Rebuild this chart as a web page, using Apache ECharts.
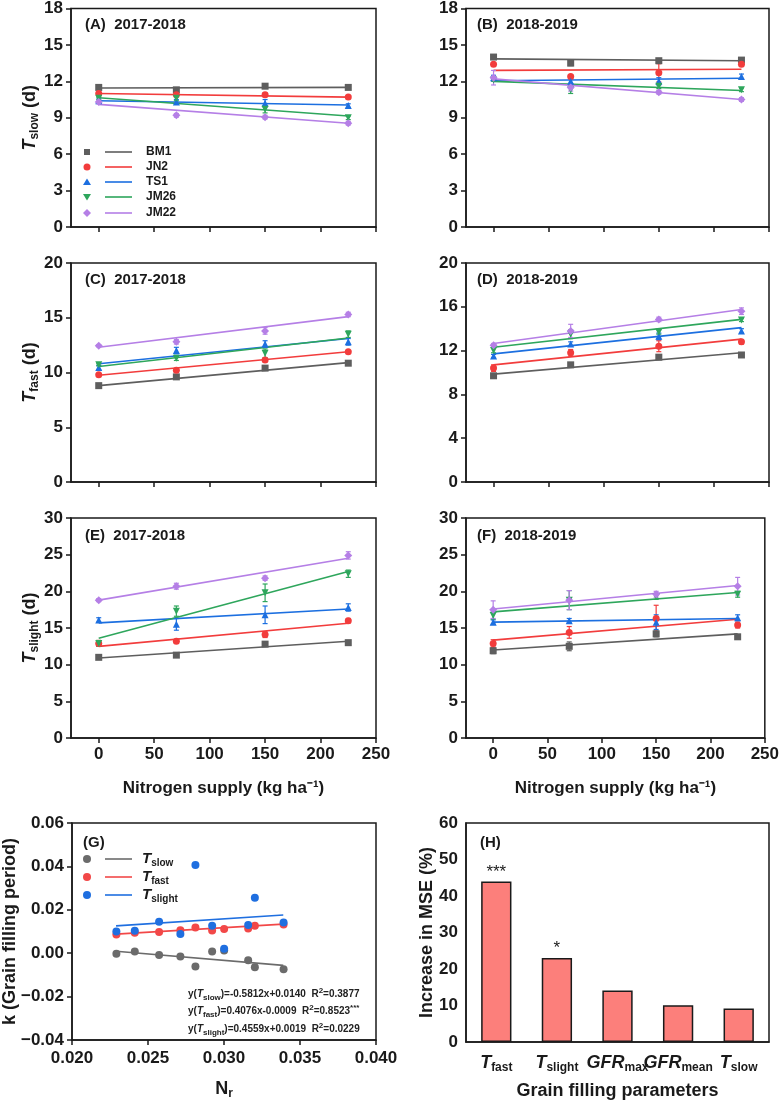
<!DOCTYPE html>
<html>
<head>
<meta charset="utf-8">
<script src="https://cdn.jsdelivr.net/npm/echarts@6/dist/echarts.min.js"></script>
<style>html,body{margin:0;background:#fff}#main{width:782px;height:1101px}</style>
</head>
<body>
<div id="main"></div>
<script>
var FONT = 'Liberation Sans, Arial, sans-serif';
var chart = echarts.init(document.getElementById('main'));

var nitrogen = [0, 70, 150, 225];
var fitX = [0, 225];
var cultivars = ['BM1', 'JN2', 'TS1', 'JM26', 'JM22'];
var colors = ['#5e5e5e', '#f23c3c', '#1c6fe0', '#2ea65c', '#b57fe6'];
var symbols = ['rect', 'circle', 'triangle', 'path://M0,0L10,0L5,9Z', 'diamond'];

// (A) Tslow 2017-2018, one row per cultivar
var slowA = [[11.5, 11.3, 11.6, 11.5], [11.0, 10.9, 10.9, 10.7], [10.4, 10.3, 10.2, 10.0], [10.6, 10.6, 9.7, 9.0], [10.3, 9.2, 9.05, 8.55]];
var slowAErr = [[0.1, 0.15, 0.1, 0.1], [0.1, 0.15, 0.15, 0.1], [0.15, 0.2, 0.3, 0.15], [0.1, 0.2, 0.3, 0.15], [0.15, 0.15, 0.15, 0.15]];
var slowAFit = [[11.45, 11.5], [11.0, 10.7], [10.4, 10.05], [10.65, 9.15], [10.1, 8.55]];
// (B) Tslow 2018-2019
var slowB = [[14.0, 13.5, 13.7, 13.75], [13.4, 12.4, 12.7, 13.4], [12.3, 12.0, 12.0, 12.4], [12.1, 11.3, 11.6, 11.3], [12.3, 11.5, 11.1, 10.5]];
var slowBErr = [[0.1, 0.2, 0.1, 0.15], [0.1, 0.15, 0.75, 0.1], [0.2, 0.2, 0.3, 0.2], [0.1, 0.3, 0.2, 0.15], [0.6, 0.3, 0.15, 0.15]];
var slowBFit = [[13.85, 13.7], [12.9, 13.0], [12.05, 12.25], [12.0, 11.25], [12.2, 10.5]];
// (C) Tfast 2017-2018
var fastC = [[8.8, 9.6, 10.4, 10.85], [9.8, 10.2, 11.15, 11.9], [10.45, 12.0, 12.6, 12.8], [10.7, 11.3, 11.75, 13.5], [12.45, 12.8, 13.8, 15.3]];
var fastCErr = [[0.1, 0.1, 0.1, 0.15], [0.1, 0.15, 0.15, 0.1], [0.2, 0.3, 0.3, 0.3], [0.1, 0.2, 0.4, 0.3], [0.1, 0.2, 0.3, 0.2]];
var fastCFit = [[8.8, 10.9], [9.75, 11.9], [10.8, 13.1], [10.55, 13.15], [12.3, 15.1]];
// (D) Tfast 2018-2019
var fastD = [[9.7, 10.7, 11.4, 11.6], [10.4, 11.8, 12.4, 12.8], [11.5, 12.6, 13.3, 13.8], [12.0, 13.5, 13.7, 14.8], [12.5, 13.8, 14.85, 15.6]];
var fastDErr = [[0.15, 0.15, 0.2, 0.15], [0.3, 0.3, 0.5, 0.2], [0.15, 0.2, 0.3, 0.2], [0.2, 0.4, 0.2, 0.15], [0.15, 0.6, 0.2, 0.3]];
var fastDFit = [[9.85, 11.8], [10.7, 13.05], [11.7, 14.1], [12.3, 14.85], [12.65, 15.75]];
// (E) Tslight 2017-2018
var slightE = [[11.0, 11.3, 12.8, 13.0], [12.9, 13.2, 14.1, 16.0], [16.1, 15.5, 16.8, 17.8], [12.9, 17.3, 19.8, 22.4], [18.8, 20.7, 21.8, 24.9]];
var slightEErr = [[0.2, 0.3, 0.3, 0.3], [0.4, 0.2, 0.4, 0.3], [0.3, 0.8, 1.2, 0.5], [0.4, 0.7, 1.2, 0.5], [0.2, 0.4, 0.3, 0.5]];
var slightEFit = [[10.9, 13.2], [12.5, 15.65], [15.7, 17.6], [13.6, 22.7], [18.8, 24.5]];
// (F) Tslight 2018-2019
var slightF = [[11.9, 12.5, 14.2, 13.8], [12.9, 14.4, 16.3, 15.4], [15.8, 16.0, 15.8, 16.4], [16.7, 18.8, 19.3, 19.6], [17.5, 18.8, 19.6, 20.7]];
var slightFErr = [[0.4, 0.6, 0.4, 0.3], [0.5, 0.8, 1.8, 0.4], [0.3, 0.3, 1.0, 0.4], [0.5, 1.3, 0.4, 0.4], [1.2, 1.3, 0.4, 1.2]];
var slightFFit = [[12.0, 14.2], [13.35, 16.2], [15.8, 16.3], [17.2, 19.85], [17.6, 20.8]];

// (G) k vs Nr
var nrSlow = [0.02292, 0.02413, 0.02573, 0.02713, 0.02812, 0.02922, 0.03001, 0.03159, 0.03203, 0.03392];
var kSlow = [-0.0002, 0.0008, -0.0008, -0.0015, -0.0061, 0.0008, 0.0012, -0.0032, -0.0065, -0.0074];
var nrFast = [0.02292, 0.02413, 0.02573, 0.02713, 0.02812, 0.02922, 0.03001, 0.03159, 0.03203, 0.03392];
var kFast = [0.0086, 0.0094, 0.0098, 0.0106, 0.0118, 0.0105, 0.0111, 0.0114, 0.0127, 0.0132];
var nrSlight = [0.02292, 0.02413, 0.02573, 0.02713, 0.02812, 0.02922, 0.03001, 0.03159, 0.03203, 0.03392];
var kSlight = [0.0100, 0.0103, 0.0145, 0.0089, 0.0406, 0.0127, 0.0020, 0.0130, 0.0256, 0.0141];
var fitNr = [0.0229, 0.0339];
var fitSlowG = [0.0009, -0.0056];
var fitFastG = [0.0088, 0.0134];
var fitSlightG = [0.0126, 0.0176];
var gNames = ['slow', 'fast', 'slight'];
var gColors = ['#6b6b6b', '#f24848', '#1f6fe0'];

// (H) importance
var params = ['T_fast', 'T_slight', 'GFR_max', 'GFR_mean', 'T_slow'];
var mseIncrease = [44.0, 23.0, 14.1, 10.1, 9.2];
var stars = ['***', '*', '', '', ''];

var panels = [
  {vals: slowA, err: slowAErr, fit: slowAFit, max: 18, step: 3, sub: 'slow', title: '(A)  2017-2018'},
  {vals: slowB, err: slowBErr, fit: slowBFit, max: 18, step: 3, sub: null, title: '(B)  2018-2019'},
  {vals: fastC, err: fastCErr, fit: fastCFit, max: 20, step: 5, sub: 'fast', title: '(C)  2017-2018'},
  {vals: fastD, err: fastDErr, fit: fastDFit, max: 20, step: 4, sub: null, title: '(D)  2018-2019'},
  {vals: slightE, err: slightEErr, fit: slightEFit, max: 30, step: 5, sub: 'slight', title: '(E)  2017-2018'},
  {vals: slightF, err: slightFErr, fit: slightFFit, max: 30, step: 5, sub: null, title: '(F)  2018-2019'}
];

var gridPos = [
  [71, 7, 305, 220], [466, 7, 303, 220],
  [71, 263, 305, 219], [466, 263, 303, 219],
  [71, 518, 305, 220], [466, 518, 303, 220],
  [72, 823, 304, 220], [466, 823, 303, 220]
];
var titlePos = [[85, 17], [477, 17], [85, 272], [477, 272], [85, 528], [477, 528], [83, 835], [480, 835]];

var BLACK = '#1a1a1a';
var nameRich = {
  i: {fontFamily: FONT, fontSize: 18, fontWeight: 'bold', fontStyle: 'italic', color: BLACK, lineHeight: 22, verticalAlign: 'middle'},
  s: {fontFamily: FONT, fontSize: 12, fontWeight: 'bold', color: BLACK, lineHeight: 22, verticalAlign: 'bottom'},
  n: {fontFamily: FONT, fontSize: 18, fontWeight: 'bold', color: BLACK, lineHeight: 22, verticalAlign: 'middle'}
};
var nTicks = [0, 50, 100, 150, 200, 250];
var axisLineStyle = {show: true, onZero: false, lineStyle: {color: BLACK, width: 1.5}};

var grids = gridPos.map(function (g) {
  return {left: g[0], top: g[1], width: g[2], height: g[3], show: true, borderColor: BLACK, borderWidth: 1.5, containLabel: false};
});
var titles = titlePos.map(function (t, i) {
  return {text: i < 6 ? panels[i].title : (i === 6 ? '(G)' : '(H)'), left: t[0], top: t[1], padding: 0,
    textStyle: {fontFamily: FONT, fontSize: 15, fontWeight: 'bold', color: BLACK}};
});

var xAxes = [], yAxes = [], series = [];

function errorBar(params, api) {
  var x = api.value(0), y = api.value(1), e = api.value(2);
  var hi = api.coord([x, y + e]), lo = api.coord([x, y - e]);
  var st = {stroke: api.visual('color'), lineWidth: 1.2};
  return {type: 'group', children: [
    {type: 'line', shape: {x1: hi[0], y1: hi[1], x2: lo[0], y2: lo[1]}, style: st},
    {type: 'line', shape: {x1: hi[0] - 2.5, y1: hi[1], x2: hi[0] + 2.5, y2: hi[1]}, style: st},
    {type: 'line', shape: {x1: lo[0] - 2.5, y1: lo[1], x2: lo[0] + 2.5, y2: lo[1]}, style: st}
  ]};
}

panels.forEach(function (p, gi) {
  var bottomRow = gi >= 4;
  xAxes.push({
    type: 'value', gridIndex: gi, min: -25, max: 250,
    name: bottomRow ? 'Nitrogen supply (kg ha\u207B\u00B9)' : '', nameLocation: 'middle', nameGap: 42, nameMoveOverlap: false,
    nameTextStyle: {fontFamily: FONT, fontSize: 17, fontWeight: 'bold', color: BLACK},
    axisLine: axisLineStyle,
    axisTick: {show: true, length: 5, customValues: nTicks, lineStyle: {color: BLACK, width: 1.5}},
    axisLabel: {show: bottomRow, customValues: nTicks, margin: 8, fontFamily: FONT, fontSize: 17, fontWeight: 'bold', color: BLACK},
    splitLine: {show: false}
  });
  yAxes.push({
    type: 'value', gridIndex: gi, min: 0, max: p.max, interval: p.step,
    name: p.sub ? '{i|T}{s|' + p.sub + '}{n| (d)}' : '', nameLocation: 'middle', nameRotate: 90, nameGap: 30, nameMoveOverlap: false,
    nameTextStyle: {rich: nameRich},
    axisLine: axisLineStyle,
    axisTick: {show: true, length: 5, lineStyle: {color: BLACK, width: 1.5}},
    axisLabel: {margin: 8, fontFamily: FONT, fontSize: 17, fontWeight: 'bold', color: BLACK},
    splitLine: {show: false}
  });
  cultivars.forEach(function (c, ci) {
    series.push({
      type: 'line', name: c + ' fit', xAxisIndex: gi, yAxisIndex: gi, showSymbol: false, silent: true,
      data: fitX.map(function (x, k) { return [x, p.fit[ci][k]]; }),
      lineStyle: {color: colors[ci], width: 1.6}, z: 2
    });
    series.push({
      type: 'custom', name: c + ' err', xAxisIndex: gi, yAxisIndex: gi, renderItem: errorBar,
      itemStyle: {color: colors[ci]},
      data: nitrogen.map(function (x, k) { return [x, p.vals[ci][k], p.err[ci][k]]; }), z: 3
    });
    series.push({
      type: 'scatter', name: c, xAxisIndex: gi, yAxisIndex: gi, symbol: symbols[ci], symbolSize: ci === 4 ? 8 : 7,
      itemStyle: {color: colors[ci], opacity: 1},
      data: nitrogen.map(function (x, k) { return [x, p.vals[ci][k]]; }), z: 4
    });
  });
});

// G axes
xAxes.push({
  type: 'value', gridIndex: 6, min: 0.02, max: 0.04, interval: 0.005,
  name: '{n|N}{s|r}', nameLocation: 'middle', nameGap: 38, nameMoveOverlap: false, nameTextStyle: {rich: nameRich},
  axisLine: axisLineStyle,
  axisTick: {length: 5, lineStyle: {color: BLACK, width: 1.5}},
  axisLabel: {margin: 10, fontFamily: FONT, fontSize: 17, fontWeight: 'bold', color: BLACK, formatter: function (v) { return v.toFixed(3); }},
  splitLine: {show: false}
});
yAxes.push({
  type: 'value', gridIndex: 6, min: -0.04, max: 0.06, interval: 0.02,
  name: 'k (Grain filling period)', nameLocation: 'middle', nameRotate: 90, nameGap: 53, nameMoveOverlap: false,
  nameTextStyle: {fontFamily: FONT, fontSize: 18, fontWeight: 'bold', color: BLACK},
  axisLine: axisLineStyle,
  axisTick: {length: 5, lineStyle: {color: BLACK, width: 1.5}},
  axisLabel: {margin: 8, fontFamily: FONT, fontSize: 17, fontWeight: 'bold', color: BLACK,
    formatter: function (v) { return v < 0 ? '\u2212' + Math.abs(v).toFixed(2) : v.toFixed(2); }},
  splitLine: {show: false}
});
var gX = [nrSlow, nrFast, nrSlight], gY = [kSlow, kFast, kSlight], gFit = [fitSlowG, fitFastG, fitSlightG];
gNames.forEach(function (n, i) {
  series.push({
    type: 'line', name: 'k ' + n + ' fit', xAxisIndex: 6, yAxisIndex: 6, showSymbol: false, silent: true,
    data: fitNr.map(function (x, k) { return [x, gFit[i][k]]; }),
    lineStyle: {color: gColors[i], width: 1.6}, z: 2 + i
  });
  series.push({
    type: 'scatter', name: 'k ' + n, xAxisIndex: 6, yAxisIndex: 6, symbol: 'circle', symbolSize: 8,
    itemStyle: {color: gColors[i], opacity: 1},
    data: gX[i].map(function (x, k) { return [x, gY[i][k]]; }), z: 3 + i
  });
});

// H axes
xAxes.push({
  type: 'category', gridIndex: 7, data: params,
  name: 'Grain filling parameters', nameLocation: 'middle', nameGap: 40, nameMoveOverlap: false,
  nameTextStyle: {fontFamily: FONT, fontSize: 18, fontWeight: 'bold', color: BLACK},
  axisLine: axisLineStyle,
  axisTick: {alignWithLabel: true, length: 5, lineStyle: {color: BLACK, width: 1.5}},
  axisLabel: {interval: 0, margin: 10, formatter: function (v) { var s = v.split('_'); return '{i|' + s[0] + '}{s|' + s[1] + '}'; },
    rich: nameRich}
});
yAxes.push({
  type: 'value', gridIndex: 7, min: 0, max: 60, interval: 10,
  name: 'Increase in MSE (%)', nameLocation: 'middle', nameRotate: 90, nameGap: 30, nameMoveOverlap: false,
  nameTextStyle: {fontFamily: FONT, fontSize: 18, fontWeight: 'bold', color: BLACK},
  axisLine: axisLineStyle,
  axisTick: {length: 5, lineStyle: {color: BLACK, width: 1.5}},
  axisLabel: {margin: 8, fontFamily: FONT, fontSize: 17, fontWeight: 'bold', color: BLACK},
  splitLine: {show: false}
});
series.push({
  type: 'bar', name: 'MSE', xAxisIndex: 7, yAxisIndex: 7, data: mseIncrease, barWidth: '50%',
  itemStyle: {color: '#fc7f7b', borderColor: BLACK, borderWidth: 1.5},
  label: {show: true, position: 'top', distance: 1, fontFamily: FONT, fontSize: 17, color: BLACK,
    formatter: function (p) { return stars[p.dataIndex]; }}
});

// legends drawn as graphics
var graphics = [];
var legendRows = [152, 167, 182, 197, 213];
cultivars.forEach(function (c, ci) {
  var y = legendRows[ci], col = colors[ci], shape;
  if (ci === 0) shape = {type: 'rect', shape: {x: 84, y: y - 3, width: 6, height: 6}, style: {fill: col}};
  else if (ci === 1) shape = {type: 'circle', shape: {cx: 87, cy: y, r: 3.5}, style: {fill: col}};
  else if (ci === 2) shape = {type: 'polygon', shape: {points: [[87, y - 3.5], [91, y + 3], [83, y + 3]]}, style: {fill: col}};
  else if (ci === 3) shape = {type: 'polygon', shape: {points: [[83, y - 3], [91, y - 3], [87, y + 3.5]]}, style: {fill: col}};
  else shape = {type: 'polygon', shape: {points: [[87, y - 4], [91, y], [87, y + 4], [83, y]]}, style: {fill: col}};
  graphics.push(shape);
  graphics.push({type: 'line', shape: {x1: 105, y1: y, x2: 132, y2: y}, style: {stroke: col, lineWidth: 1.6}});
  graphics.push({type: 'text', x: 146, y: y, style: {text: c, fill: BLACK, font: 'bold 12px ' + FONT, verticalAlign: 'middle'}});
});
var gRows = [859, 877, 895];
var smallRich = {
  i: {fontFamily: FONT, fontSize: 15, fontWeight: 'bold', fontStyle: 'italic', fill: BLACK, lineHeight: 18, verticalAlign: 'middle'},
  s: {fontFamily: FONT, fontSize: 10, fontWeight: 'bold', fill: BLACK, lineHeight: 18, verticalAlign: 'bottom'}
};
gNames.forEach(function (n, i) {
  var y = gRows[i];
  graphics.push({type: 'circle', shape: {cx: 87, cy: y, r: 4}, style: {fill: gColors[i]}});
  graphics.push({type: 'line', shape: {x1: 105, y1: y, x2: 132, y2: y}, style: {stroke: gColors[i], lineWidth: 1.6}});
  graphics.push({type: 'text', x: 142, y: y, style: {text: '{i|T}{s|' + n + '}', rich: smallRich, verticalAlign: 'middle'}});
});
var eqRich = {
  n: {fontFamily: FONT, fontSize: 10, fontWeight: 'bold', fill: '#222', lineHeight: 15, verticalAlign: 'middle'},
  i: {fontFamily: FONT, fontSize: 10, fontWeight: 'bold', fontStyle: 'italic', fill: '#222', lineHeight: 15, verticalAlign: 'middle'},
  s: {fontFamily: FONT, fontSize: 8, fontWeight: 'bold', fill: '#222', lineHeight: 15, verticalAlign: 'bottom'},
  p: {fontFamily: FONT, fontSize: 8, fontWeight: 'bold', fill: '#222', lineHeight: 15, verticalAlign: 'top'}
};
var equations = [
  ['slow', '=-0.5812x+0.0140', '0.3877', ''],
  ['fast', '=0.4076x-0.0009', '0.8523', '***'],
  ['slight', '=0.4559x+0.0019', '0.0229', '']
];
var eqRows = [994, 1011, 1029];
equations.forEach(function (e, i) {
  graphics.push({type: 'text', x: 188, y: eqRows[i], style: {
    text: '{n|y(}{i|T}{s|' + e[0] + '}{n|)' + e[1] + '  R}{p|2}{n|=' + e[2] + '}{p|' + e[3] + '}',
    rich: eqRich, verticalAlign: 'middle'}});
});

chart.setOption({
  animation: false,
  backgroundColor: '#fff',
  title: titles,
  grid: grids,
  xAxis: xAxes,
  yAxis: yAxes,
  series: series,
  graphic: graphics
});
</script>
</body>
</html>
